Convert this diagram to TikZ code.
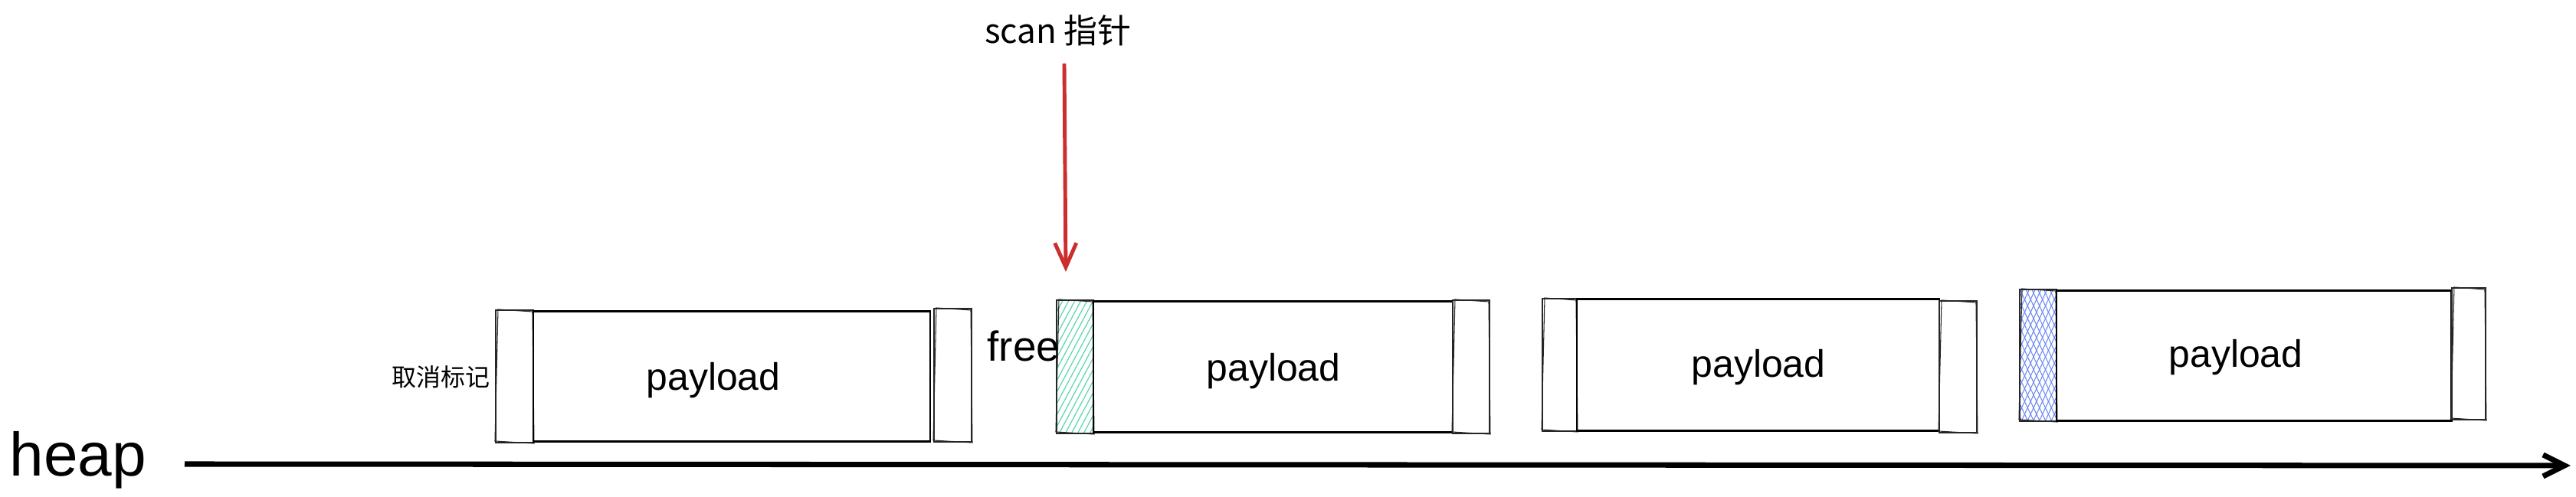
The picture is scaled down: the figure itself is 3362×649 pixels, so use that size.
\documentclass[tikz,border=0pt]{standalone}
\usepackage{fontspec}
\setmainfont{Liberation Sans}
\newfontfamily\cjk{Noto Sans CJK SC}
\usetikzlibrary{arrows.meta,patterns.meta}
\definecolor{scanred}{HTML}{CC2E2E}
\definecolor{mint}{HTML}{5CD6AE}
\definecolor{periw}{HTML}{6B88F2}
% sketchy double-stroked thin rectangle
\newcommand\tagrect[4]{%
  \draw[tagbox] (#1,#2) rectangle (#3,#4);
  \draw[tagbox] ({#1+3},{#2-1}) -- ({#3-1},{#2+2}) -- ({#3+1},{#4+1}) -- ({#1-1},{#4-2}) -- cycle;
}
\begin{document}
\begin{tikzpicture}[x=0.01cm,y=-0.01cm,
  payloadbox/.style={draw=black,line width=0.85pt},
  tagbox/.style={draw=black!85,line width=0.3pt},
  plabel/.style={inner sep=0pt,anchor=base,font=\fontsize{14.2pt}{16pt}\selectfont},
  greenhatch/.style={pattern={Lines[angle=62,distance=2pt,line width=0.35pt]},pattern color=mint},
  bluehatchA/.style={pattern={Lines[angle=65,distance=2pt,line width=0.3pt]},pattern color=periw},
  bluehatchB/.style={pattern={Lines[angle=115,distance=2pt,line width=0.3pt]},pattern color=periw},
  axisline/.style={line width=2pt,-{Straight Barb[length=8pt,width=8pt,line width=2pt]}},
  ptrarrow/.style={draw=scanred,line width=1.4pt,-{Straight Barb[length=9pt,width=8pt,line width=1.4pt]}}]
\fill[white] (0,0) rectangle (3362,649);

% block 1
\tagrect{647}{405}{696}{578}
\draw[payloadbox] (696,407) rectangle (1214,577);
\tagrect{1219}{403}{1268}{577}
\node[plabel] (p1) at (931,510) {payload};
\node[inner sep=0pt,font=\cjk\fontsize{9.1pt}{10pt}\selectfont] (unmark) at (576,492) {取消标记};

% block 2
\fill[greenhatch] (1379,392) rectangle (1427,566);
\tagrect{1379}{392}{1427}{566}
\draw[payloadbox] (1427,394) rectangle (1896,565);
\tagrect{1896}{392}{1944}{566}
\node[plabel] (p2) at (1662,498) {payload};
\node[inner sep=0pt,anchor=base,font=\fontsize{15.6pt}{17pt}\selectfont] (free) at (1336,472) {free};

% block 3
\tagrect{2013}{390}{2058}{563}
\draw[payloadbox] (2058,391) rectangle (2531,563);
\tagrect{2531}{393}{2580}{565}
\node[plabel] (p3) at (2295,493) {payload};

% block 4
\fill[bluehatchA] (2636,378) rectangle (2684,550);
\fill[bluehatchB] (2636,378) rectangle (2684,550);
\tagrect{2636}{378}{2684}{550}
\draw[payloadbox] (2684,380) rectangle (3200,550);
\tagrect{3200}{376}{3244}{548}
\node[plabel] (p4) at (2918,480) {payload};

% scan pointer
\node[inner sep=0pt,anchor=base,font=\cjk\fontsize{12.5pt}{14pt}\selectfont] (scan) at (1381,57) {scan 指针};
\coordinate (ptrtop) at (1389,83);
\coordinate (ptrend) at (1391,355);
\draw[ptrarrow] (ptrtop) -- (ptrend);

% heap axis
\node[inner sep=0pt,anchor=base,font=\fontsize{22.8pt}{25pt}\selectfont] (heap) at (102,622) {heap};
\coordinate (axstart) at (241,606);
\coordinate (axend) at (3355,608);
\draw[axisline] (axstart) -- (axend);
\end{tikzpicture}
\end{document}
